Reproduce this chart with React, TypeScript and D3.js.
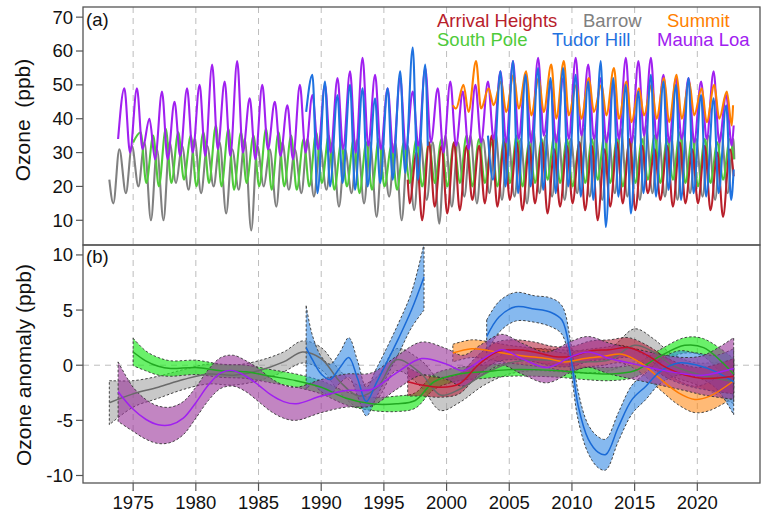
import React from "react";
import * as d3 from "d3";

// ---------- DATA ----------
const xTicks = [1975, 1980, 1985, 1990, 1995, 2000, 2005, 2010, 2015, 2020];
const yTicksA = [10, 20, 30, 40, 50, 60, 70];
const yTicksB = [-10, -5, 0, 5, 10];

// Panel (a): annual seasonal maxima / minima (ppb)
const maunaLoaStart = [[1973.8, 34]];
const maunaLoaPeaks = [49, 49, 40, 48, 45, 49, 50, 56, 51, 57, 46, 50, 45, 44, 50, 47, 50, 52, 54, 58, 53, 49, 52, 48, 55, 49, 51, 48, 50, 51, 54, 57, 53, 58, 50, 52, 58, 56, 52, 50, 58, 57, 58, 53, 52, 52, 51, 54, 47];
const maunaLoaTroughs = [30, 31, 28, 28, 29, 30, 29, 31, 29, 30, 28, 31, 29, 28, 30, 31, 30, 31, 30, 32, 31, 30, 31, 32, 33, 30, 32, 31, 33, 34, 33, 34, 33, 35, 33, 34, 35, 34, 33, 34, 33, 35, 34, 33, 34, 33, 34, 33, 32];
const maunaLoaEnd = [[2022.9, 38]];

const barrowStart = [[1973.1, 22]];
const barrowPeaks = [31, 32, 33, 31, 33, 32, 34, 32, 33, 31, 34, 32, 31, 33, 31, 34, 32, 33, 31, 34, 33, 32, 33, 32, 34, 33, 35, 33, 35, 34, 36, 35, 34, 37, 35, 36, 34, 37, 35, 36, 37, 35, 38, 36, 35, 36, 34, 35, 36, 34];
const barrowTroughs = [15, 18, 20, 10, 10, 21, 19, 18, 20, 12, 19, 7, 20, 14, 19, 18, 17, 19, 14, 18, 15, 11, 17, 10, 13, 16, 9, 14, 17, 15, 18, 16, 17, 15, 18, 17, 16, 18, 17, 16, 18, 17, 16, 18, 17, 16, 18, 17, 16, 18];
const barrowEnd = [[2022.95, 28]];

const southPoleStart = [[1975.0, 33]];
const southPolePeaks = [36, 35, 37, 36, 35, 36, 38, 37, 36, 35, 37, 36, 35, 34, 36, 35, 33, 34, 33, 34, 32, 33, 34, 33, 34, 33, 35, 34, 33, 34, 35, 33, 34, 35, 34, 33, 34, 35, 34, 33, 34, 35, 34, 36, 35, 34, 33, 34];
const southPoleTroughs = [21, 20, 21, 22, 20, 21, 20, 19, 21, 20, 19, 20, 19, 20, 21, 19, 20, 18, 19, 20, 19, 21, 20, 21, 20, 21, 20, 21, 20, 21, 20, 21, 22, 21, 20, 21, 22, 21, 20, 21, 22, 21, 22, 21, 20, 21, 22];
const southPoleEnd = [[2022.9, 28]];

const arrivalStart = [[1996.9, 22]];
const arrivalPeaks = [30, 33, 32, 33, 32, 32, 35, 33, 33, 32, 33, 31, 32, 33, 32, 31, 33, 34, 32, 31, 32, 33, 31, 32, 30, 31];
const arrivalTroughs = [15, 10, 14, 12, 13, 16, 15, 14, 16, 13, 15, 12, 14, 15, 13, 10, 14, 15, 13, 18, 16, 14, 15, 15, 13, 11];
const arrivalEnd = [[2022.9, 23]];

const tudor1Start = [[1988.8, 42]];
const tudor1Peaks = [53, 51, 47, 50, 49, 46, 49, 54, 61, 56];
const tudor1Troughs = [18, 20, 21, 19, 20, 21, 22, 24, 22];
const tudor1End = [[1998.5, 32]];

const tudor2Start = [[2003.3, 35]];
const tudor2Peaks = [54, 57, 53, 55, 52, 55, 53, 51, 57, 52, 50, 48, 53, 51, 50, 52, 47, 46, 44];
const tudor2Troughs = [22, 20, 18, 20, 19, 18, 20, 17, 16, 8, 17, 12, 18, 17, 19, 16, 18, 17, 18, 16];
const tudor2End = [[2022.9, 25]];

const summitStart = [[2000.5, 44]];
const summitPeaks = [50, 57, 49, 51, 53, 54, 52, 56, 57, 50, 52, 50, 55, 51, 49, 50, 52, 53, 51, 49, 50, 48];
const summitTroughs = [43, 42, 43, 44, 42, 43, 41, 42, 40, 41, 40, 42, 41, 40, 39, 41, 40, 39, 40, 41, 39, 40, 38];
const summitEnd = [[2022.85, 44]];

// Panel (b): smoothed anomaly (ppb), centre and half-width of band
const mlYears = [1973.8, 1975, 1976, 1977, 1978, 1979, 1980, 1981, 1982, 1983, 1984, 1985, 1986, 1987, 1988, 1990, 1992, 1994, 1996, 1998, 2000, 2001.3, 2002.8, 2004.4, 2006, 2008, 2010, 2011.3, 2013, 2015, 2017, 2019, 2020.5, 2022.9];
const mlCenter = [-2.4, -4.0, -4.9, -5.4, -5.4, -4.8, -3.4, -1.8, -0.7, -0.5, -1.0, -1.8, -2.7, -3.3, -3.5, -2.8, -2.3, -2.2, -0.7, 0.6, 0.1, -0.5, 0.5, 1.4, 0.6, -0.2, 0.8, 1.2, 0.6, 0.1, -0.4, -0.8, -0.9, -0.3];
const mlHalf = [2.7, 2.0, 1.8, 1.7, 1.6, 1.5, 1.4, 1.4, 1.4, 1.4, 1.4, 1.5, 1.5, 1.5, 1.5, 1.5, 1.5, 1.5, 1.5, 1.5, 1.4, 1.4, 1.4, 1.4, 1.4, 1.4, 1.4, 1.4, 1.4, 1.4, 1.4, 1.5, 1.8, 2.8];

const spYears = [1975, 1976, 1977, 1978, 1980, 1982, 1984, 1986, 1988, 1990, 1992, 1994, 1996, 1997.5, 1999, 2001, 2003, 2005, 2007, 2009, 2011, 2013, 2015, 2017, 2019, 2020.5, 2022.9];
const spCenter = [1.2, 0.4, -0.1, -0.3, -0.2, -0.5, -0.6, -1.0, -1.4, -2.0, -3.0, -3.5, -3.5, -3.2, -1.5, -0.8, -0.6, -0.4, -0.4, -0.5, -0.7, -0.8, -0.5, 0.8, 1.8, 1.6, -0.8];
const spHalf = [1.25, 0.9, 0.8, 0.7, 0.65, 0.6, 0.6, 0.6, 0.6, 0.6, 0.6, 0.6, 0.7, 0.7, 0.7, 0.6, 0.6, 0.6, 0.6, 0.6, 0.6, 0.6, 0.6, 0.6, 0.7, 0.8, 1.4];

const brYears = [1973.1, 1975, 1977, 1979, 1981, 1983, 1985, 1987, 1988.5, 1990, 1991.5, 1993, 1994.5, 1996, 1998, 1999.5, 2001, 2003, 2005, 2007, 2009, 2011, 2013, 2015, 2016.5, 2018, 2020, 2022.9];
const brCenter = [-3.4, -2.6, -2.0, -1.3, -0.8, -0.9, -0.5, 0.3, 1.2, 0.6, -1.5, -2.8, -2.0, 0.5, -0.8, -2.7, -2.2, -0.8, 0.2, 0.5, 0.4, 0.3, 0.5, 1.8, 1.2, 0.0, -0.8, -1.5];
const brHalf = [2.0, 1.2, 1.0, 0.9, 0.9, 0.9, 0.9, 0.9, 1.0, 1.0, 1.0, 1.0, 1.0, 1.0, 1.2, 1.4, 1.2, 1.0, 1.0, 1.0, 1.0, 1.0, 1.0, 1.5, 1.2, 1.0, 1.0, 2.0];

const th1Years = [1988.8, 1989.3, 1990, 1990.7, 1991.5, 1992.2, 1992.9, 1993.6, 1994.4, 1995.2, 1996.2, 1997.2, 1998.2];
const th1Center = [1.6, 0.5, -0.8, -1.3, -0.2, 0.7, -1.2, -3.3, -1.6, 0.2, 2.5, 5.0, 8.0];
const th1Half = [3.8, 2.2, 1.6, 1.4, 1.4, 1.8, 1.6, 1.3, 1.3, 1.3, 1.4, 1.6, 3.0];

const th2Years = [2003.2, 2004.2, 2005.5, 2007, 2008.3, 2009.2, 2009.9, 2010.5, 2011.3, 2012.1, 2012.7, 2013.7, 2014.8, 2015.9, 2017, 2018.5, 2020, 2021.5, 2022.9];
const th2Center = [2.6, 4.4, 5.3, 5.1, 4.8, 4.1, 0.8, -3.7, -6.7, -7.9, -8.1, -5.6, -3.1, -1.9, -0.6, 0.2, 0.0, -0.6, -1.5];
const th2Half = [1.5, 1.4, 1.3, 1.2, 1.3, 1.3, 1.3, 1.3, 1.3, 1.4, 1.4, 1.3, 1.3, 1.2, 1.1, 1.1, 1.1, 1.5, 3.0];

const ahYears = [1996.9, 1998, 1999.5, 2001, 2002.5, 2004, 2005.5, 2007, 2008.5, 2010, 2011.5, 2013, 2014.5, 2016, 2017.5, 2019, 2020.5, 2022.9];
const ahCenter = [-1.5, -1.8, -2.0, -1.7, 0.0, 1.2, 1.4, 1.2, 0.8, 0.8, 1.3, 1.4, 1.6, 0.9, -0.2, -0.9, -1.2, -1.0];
const ahHalf = [1.3, 1.0, 0.9, 0.9, 0.9, 0.9, 0.9, 0.9, 0.9, 0.9, 0.9, 0.9, 0.9, 0.9, 0.9, 0.9, 1.0, 1.6];

const suYears = [2000.5, 2002, 2003.5, 2005, 2006.5, 2008, 2009.5, 2011, 2012.5, 2014, 2015.5, 2017, 2018.5, 2019.8, 2021, 2022.8];
const suCenter = [1.1, 1.5, 1.3, 1.0, 0.8, 0.6, 0.3, 0.6, 0.8, 1.0, 0.2, -1.2, -2.5, -3.1, -2.8, -1.5];
const suHalf = [0.8, 0.8, 0.8, 0.8, 0.8, 0.8, 0.8, 0.8, 0.8, 0.8, 0.9, 1.0, 1.1, 1.2, 1.3, 1.5];

// ---------- LAYOUT ----------
const W = 768, H = 514;
const X0 = 83, X1 = 760;
const A_TOP = 7, A_BOT = 245, B_BOT = 483;
const FONT = "'Liberation Sans', Arial, Helvetica, sans-serif";

const x = d3.scaleLinear().domain([1971, 2025]).range([X0, X1]);
const yA = d3.scaleLinear().domain([2.7, 73]).range([A_BOT, A_TOP]);
const yB = d3.scaleLinear().domain([-10.68, 10.9]).range([B_BOT, A_BOT]);

type P = [number, number];

function seasonal(start: number[][], peakY0: number, peakFrac: number, peaks: number[], troughY0: number, troughFrac: number, troughs: number[], end: number[][]): P[] {
  const pts: P[] = [];
  start.forEach((p) => pts.push([p[0], p[1]]));
  peaks.forEach((v, i) => pts.push([peakY0 + i + peakFrac, v]));
  troughs.forEach((v, i) => pts.push([troughY0 + i + troughFrac, v]));
  end.forEach((p) => pts.push([p[0], p[1]]));
  return pts.sort((a, b) => a[0] - b[0]);
}

const seriesA = [
  { name: "Barrow", color: "#808080", pts: seasonal(barrowStart, 1973, 0.9, barrowPeaks, 1973, 0.42, barrowTroughs, barrowEnd) },
  { name: "South Pole", color: "#4FCB3A", pts: seasonal(southPoleStart, 1975, 0.6, southPolePeaks, 1976, 0.05, southPoleTroughs, southPoleEnd) },
  { name: "Arrival Heights", color: "#B8202B", pts: seasonal(arrivalStart, 1997, 0.6, arrivalPeaks, 1997, 0.05, arrivalTroughs, arrivalEnd) },
  { name: "Mauna Loa", color: "#A020F0", pts: seasonal(maunaLoaStart, 1974, 0.3, maunaLoaPeaks, 1974, 0.75, maunaLoaTroughs, maunaLoaEnd) },
  { name: "Summit", color: "#FF8000", pts: seasonal(summitStart, 2001, 0.35, summitPeaks, 2000, 0.75, summitTroughs, summitEnd) },
  { name: "Tudor Hill", color: "#1F72E0", pts: seasonal(tudor1Start, 1989, 0.3, tudor1Peaks, 1989, 0.7, tudor1Troughs, tudor1End) },
  { name: "Tudor Hill", color: "#1F72E0", pts: seasonal(tudor2Start, 2004, 0.3, tudor2Peaks, 2003, 0.7, tudor2Troughs, tudor2End) },
];

type B = { t: number; c: number; h: number };
const mk = (ys: number[], cs: number[], hs: number[]): B[] => ys.map((t, i) => ({ t, c: cs[i], h: hs[i] }));

const seriesB = [
  { fill: "#9A9A9A", op: 0.55, line: "#6A6A6A", d: mk(brYears, brCenter, brHalf) },
  { fill: "#2BEB2B", op: 0.7, line: "#22A822", d: mk(spYears, spCenter, spHalf) },
  { fill: "#FF8C1A", op: 0.6, line: "#FF7A00", d: mk(suYears, suCenter, suHalf) },
  { fill: "#3B8EE5", op: 0.62, line: "#1A6AD6", d: mk(th1Years, th1Center, th1Half) },
  { fill: "#3B8EE5", op: 0.62, line: "#1A6AD6", d: mk(th2Years, th2Center, th2Half) },
  { fill: "#B3122E", op: 0.55, line: "#C8102A", d: mk(ahYears, ahCenter, ahHalf) },
  { fill: "#993399", op: 0.6, line: "#A020F0", d: mk(mlYears, mlCenter, mlHalf) },
];

const legend = [
  { label: "Arrival Heights", color: "#B8202B", x: 437, y: 27 },
  { label: "Barrow", color: "#808080", x: 583, y: 27 },
  { label: "Summit", color: "#FF8000", x: 667, y: 27 },
  { label: "South Pole", color: "#4FCB3A", x: 437, y: 46 },
  { label: "Tudor Hill", color: "#1F72E0", x: 552, y: 46 },
  { label: "Mauna Loa", color: "#A020F0", x: 657, y: 46 },
];

export default function App() {
  const lineA = d3.line<P>().x((d) => x(d[0])).y((d) => yA(d[1])).curve(d3.curveMonotoneX);
  const curve = d3.curveCatmullRom.alpha(0.5);
  const band = d3.area<B>().x((d) => x(d.t)).y0((d) => yB(d.c - d.h)).y1((d) => yB(d.c + d.h)).curve(curve);
  const mid = d3.line<B>().x((d) => x(d.t)).y((d) => yB(d.c)).curve(curve);

  return (
    <svg width={W} height={H} style={{ position: "absolute", left: 0, top: 0, background: "#fff" }} fontFamily={FONT}>
      <defs>
        <clipPath id="clipA"><rect x={X0} y={A_TOP} width={X1 - X0} height={A_BOT - A_TOP} /></clipPath>
        <clipPath id="clipB"><rect x={X0} y={A_BOT} width={X1 - X0} height={B_BOT - A_BOT} /></clipPath>
      </defs>
      <rect x={0} y={0} width={W} height={H} fill="#fff" />

      {/* grid */}
      {xTicks.map((t) => (
        <line key={"g" + t} x1={x(t)} x2={x(t)} y1={A_TOP} y2={B_BOT} stroke="#BDBDBD" strokeWidth={1} strokeDasharray="6,5" />
      ))}
      <line x1={X0} x2={X1} y1={yB(0)} y2={yB(0)} stroke="#BDBDBD" strokeWidth={1} strokeDasharray="6,5" />

      {/* panel a lines */}
      <g clipPath="url(#clipA)">
        {seriesA.map((s, i) => (
          <path key={"a" + i} d={lineA(s.pts) || ""} fill="none" stroke={s.color} strokeWidth={2.1} strokeLinejoin="round" />
        ))}
      </g>

      {/* panel b bands */}
      <g clipPath="url(#clipB)">
        {seriesB.map((s, i) => (
          <path key={"b" + i} d={band(s.d) || ""} fill={s.fill} fillOpacity={s.op} stroke="#333" strokeWidth={0.9} strokeDasharray="2.5,2" />
        ))}
        {seriesB.map((s, i) => (
          <path key={"m" + i} d={mid(s.d) || ""} fill="none" stroke={s.line} strokeWidth={1.5} />
        ))}
      </g>

      {/* frames */}
      <rect x={X0} y={A_TOP} width={X1 - X0} height={A_BOT - A_TOP} fill="none" stroke="#555" strokeWidth={1.3} />
      <rect x={X0} y={A_BOT} width={X1 - X0} height={B_BOT - A_BOT} fill="none" stroke="#555" strokeWidth={1.3} />

      {/* y axis a */}
      {yTicksA.map((t) => (
        <g key={"ya" + t}>
          <line x1={X0 - 7} x2={X0} y1={yA(t)} y2={yA(t)} stroke="#555" strokeWidth={1.2} />
          <text x={X0 - 10} y={yA(t)} dy="0.35em" textAnchor="end" fontSize={18.5} fill="#111">{t}</text>
        </g>
      ))}
      {/* y axis b */}
      {yTicksB.map((t) => (
        <g key={"yb" + t}>
          <line x1={X0 - 7} x2={X0} y1={yB(t)} y2={yB(t)} stroke="#555" strokeWidth={1.2} />
          <text x={X0 - 10} y={yB(t)} dy="0.35em" textAnchor="end" fontSize={18.5} fill="#111">{t}</text>
        </g>
      ))}
      {/* x axis */}
      {xTicks.map((t) => (
        <g key={"xt" + t}>
          <line x1={x(t)} x2={x(t)} y1={B_BOT} y2={B_BOT + 8} stroke="#555" strokeWidth={1.2} />
          <text x={x(t)} y={509} textAnchor="middle" fontSize={18.5} fill="#111">{t}</text>
        </g>
      ))}

      {/* axis titles */}
      <text transform={`translate(30,120) rotate(-90)`} textAnchor="middle" fontSize={21} fill="#111" style={{ whiteSpace: "pre" }}>{"Ozone  (ppb)"}</text>
      <text transform={`translate(31,365) rotate(-90)`} textAnchor="middle" fontSize={21} fill="#111">Ozone anomaly (ppb)</text>

      {/* panel labels */}
      <text x={86} y={26} fontSize={18.5} fill="#111">(a)</text>
      <text x={86} y={263} fontSize={18.5} fill="#111">(b)</text>

      {/* legend */}
      {legend.map((l) => (
        <text key={l.label} x={l.x} y={l.y} fontSize={18.5} fill={l.color}>{l.label}</text>
      ))}
    </svg>
  );
}
